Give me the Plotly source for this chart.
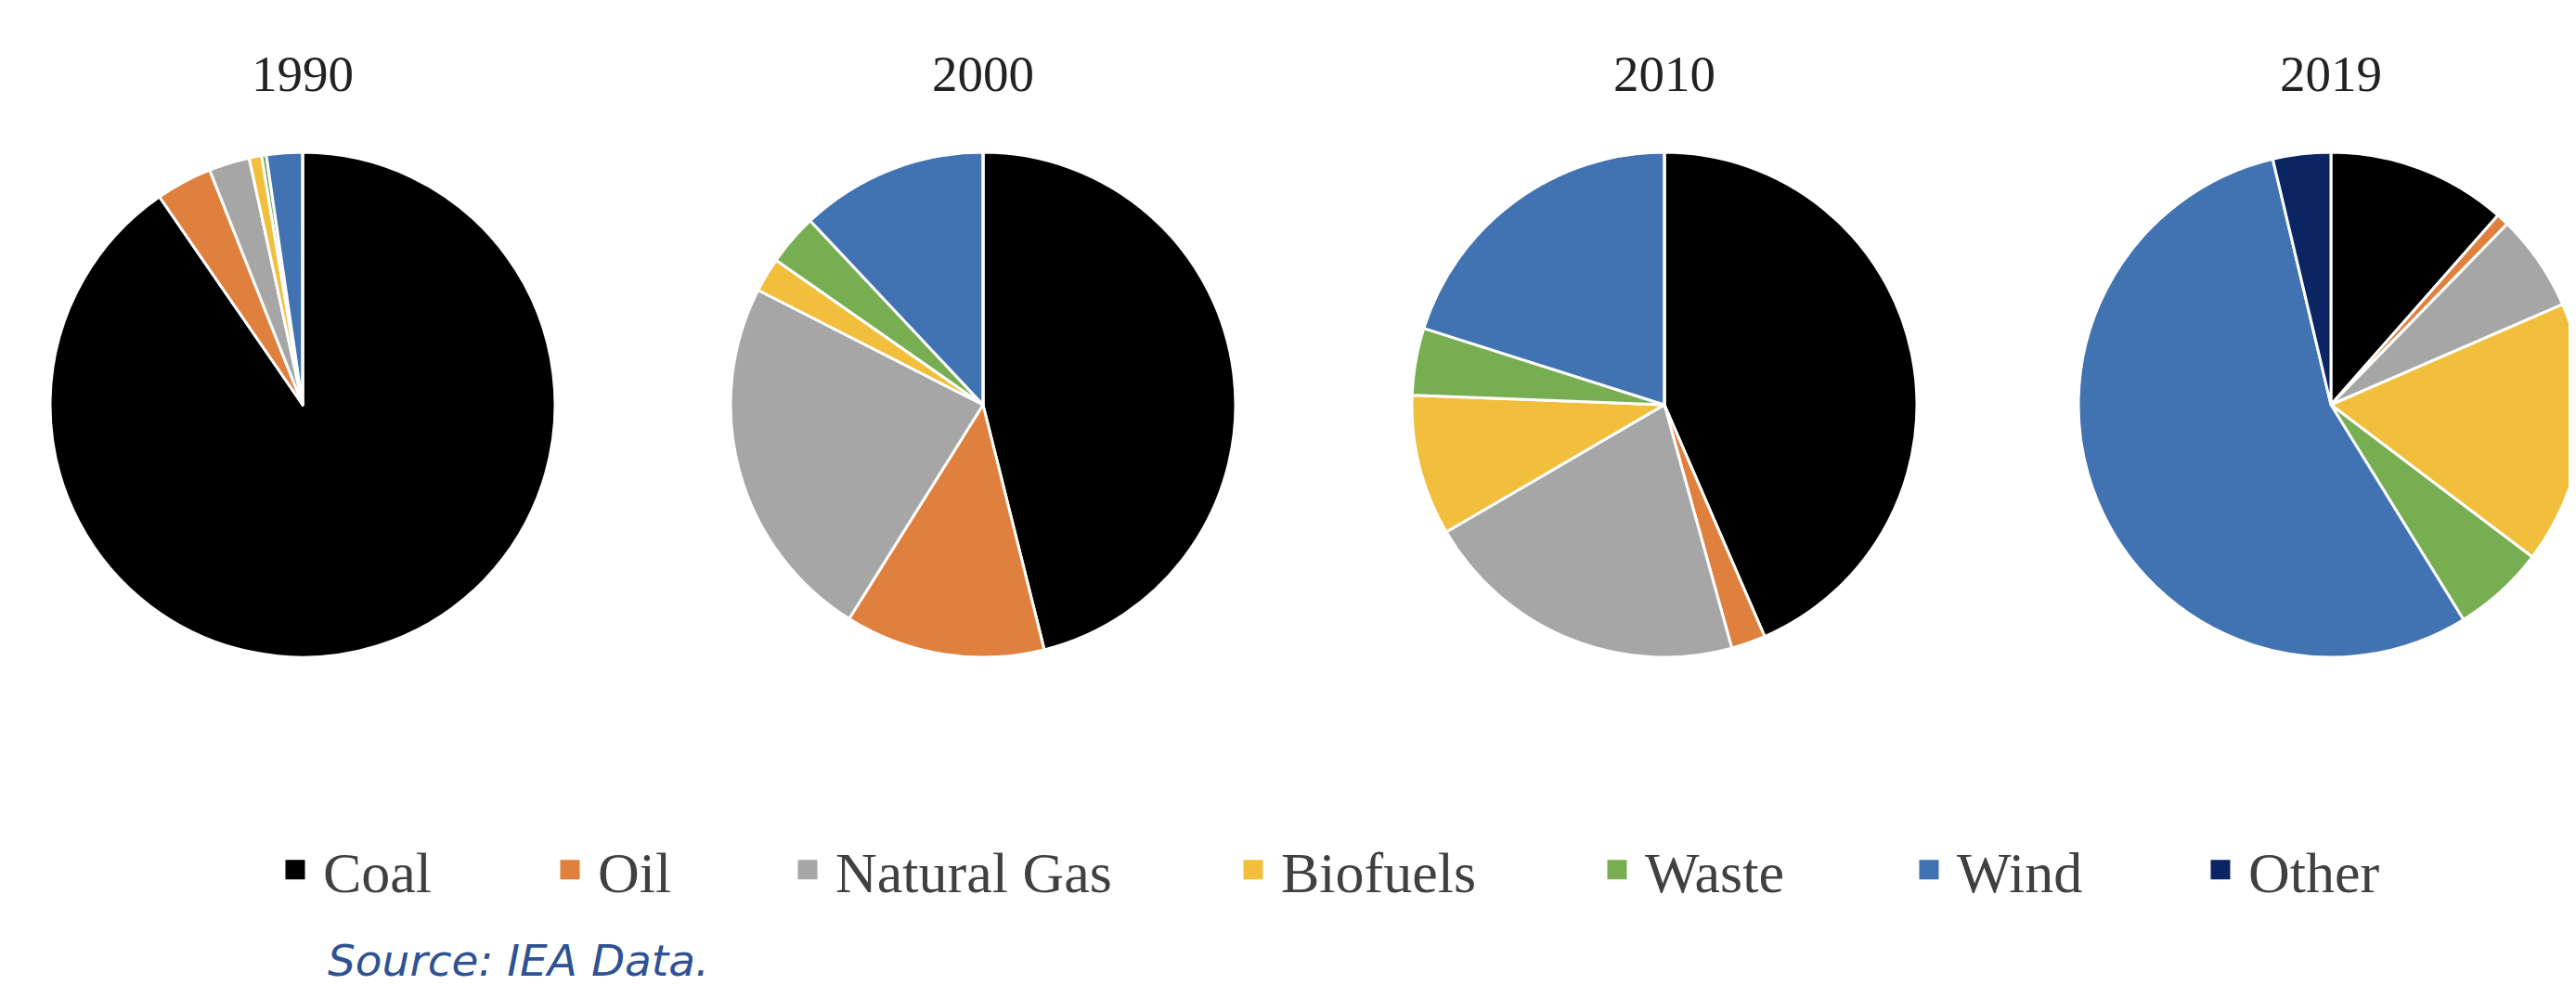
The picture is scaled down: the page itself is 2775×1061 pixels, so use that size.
import plotly.graph_objects as go

# ---------------- data ----------------
categories = ["Coal", "Oil", "Natural Gas", "Biofuels", "Waste", "Wind", "Other"]
years = ["1990", "2000", "2010", "2019"]
share_1990 = [90.4, 3.6, 2.6, 0.8, 0.3, 2.3, 0.0]
share_2000 = [46.1, 12.8, 23.6, 2.2, 3.3, 12.0, 0.0]
share_2010 = [43.5, 2.2, 20.9, 9.0, 4.3, 20.1, 0.0]
share_2019 = [11.5, 0.8, 6.2, 16.8, 5.9, 55.1, 3.7]
source_text = "Source: IEA Data."

# ---------------- style / layout ----------------
colors = ["#000000", "#E0803E", "#A6A6A6", "#F2BF3D", "#78AE52", "#4173B2", "#0B2563"]
W, H = 2775, 1061
pie_cx = [318, 1051, 1785, 2503]
pie_cy = 428
pie_r = 272
title_y = 72
legend_marker_cx = [318, 614, 870, 1350, 1742, 2078, 2392]
legend_y = 929

series = [share_1990, share_2000, share_2010, share_2019]

fig = go.Figure()

for i, (yr, vals) in enumerate(zip(years, series)):
    cx = pie_cx[i]
    fig.add_trace(go.Pie(
        labels=categories,
        values=vals,
        sort=False,
        direction="clockwise",
        rotation=0,
        textinfo="none",
        hoverinfo="label+percent",
        showlegend=False,
        marker=dict(colors=colors, line=dict(color="#FFFFFF", width=3)),
        domain=dict(x=[(cx - pie_r) / W, (cx + pie_r) / W],
                    y=[(H - pie_cy - pie_r) / H, (H - pie_cy + pie_r) / H]),
        name=yr,
    ))
    fig.add_annotation(
        text=yr, x=cx / W, y=(H - title_y) / H, xref="paper", yref="paper",
        xanchor="center", yanchor="middle", showarrow=False,
        font=dict(family="Liberation Serif", size=55, color="#222222"),
    )

# legend entries (one legend per category so spacing matches reference)
legend_layouts = {}
for j, (cat, col) in enumerate(zip(categories, colors)):
    lname = "legend" if j == 0 else f"legend{j + 1}"
    fig.add_trace(go.Scatter(
        x=[None], y=[None], mode="markers", name=cat,
        marker=dict(symbol="square", size=16, color=col,
                    line=dict(color=col, width=5)),
        legend=lname, showlegend=True, hoverinfo="skip",
    ))
    legend_layouts[lname] = dict(
        x=(legend_marker_cx[j] - 38) / W, xanchor="left",
        y=(H - legend_y) / H, yanchor="middle",
        orientation="h", bgcolor="rgba(0,0,0,0)", borderwidth=0,
        font=dict(family="Liberation Serif", size=62, color="#404040"),
        itemwidth=50,
    )

fig.add_annotation(
    text=f"<i>{source_text}</i>", x=343 / W, y=5 / H,
    xref="paper", yref="paper", xanchor="left", yanchor="bottom",
    showarrow=False,
    font=dict(family="DejaVu Sans", size=47, color="#2E5294"),
)

fig.update_layout(
    width=W, height=H,
    margin=dict(l=0, r=0, t=0, b=0),
    paper_bgcolor="#FFFFFF", plot_bgcolor="#FFFFFF",
    xaxis=dict(visible=False), yaxis=dict(visible=False),
    **legend_layouts,
)

fig.write_html("out.html")
